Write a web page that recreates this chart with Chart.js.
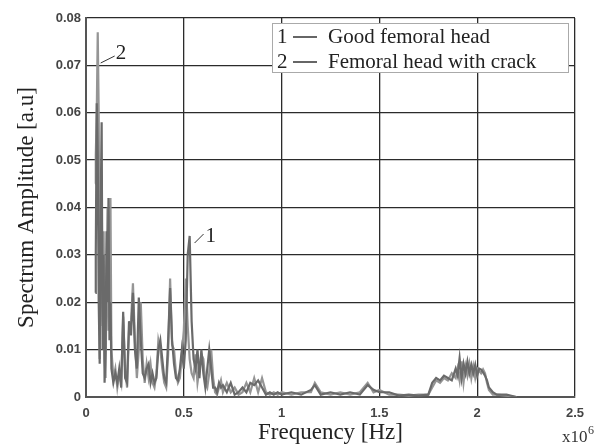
<!DOCTYPE html>
<html>
<head>
<meta charset="utf-8">
<script src="https://cdn.jsdelivr.net/npm/chart.js@4/dist/chart.umd.min.js"></script>
<style>
  body { margin: 0; background: #fff; }
  canvas { display: block; }
</style>
</head>
<body>
<canvas id="chart" width="600" height="445"></canvas>
<script>
// frequency in units of 10^6 Hz
let freqs = [
    0.048, 0.05, 0.055, 0.06, 0.065, 0.07, 0.075, 0.08, 0.085, 0.09,
    0.095, 0.1, 0.105, 0.11, 0.115, 0.12, 0.125, 0.13, 0.14, 0.15,
    0.16, 0.17, 0.18, 0.19, 0.2, 0.21, 0.22, 0.23, 0.24, 0.25,
    0.26, 0.27, 0.28, 0.29, 0.3, 0.31, 0.32, 0.33, 0.34, 0.35,
    0.36, 0.37, 0.38, 0.39, 0.4, 0.41, 0.42, 0.43, 0.44, 0.45,
    0.46, 0.47, 0.48, 0.49, 0.5, 0.51, 0.52, 0.53, 0.54, 0.55,
    0.56, 0.57, 0.58, 0.59, 0.6, 0.61, 0.62, 0.63, 0.64, 0.65,
    0.66, 0.67, 0.68, 0.69, 0.7, 0.72, 0.74, 0.76, 0.78, 0.8,
    0.82, 0.84, 0.86, 0.88, 0.9, 0.92, 0.94, 0.96, 0.98, 1.0,
    1.05, 1.1, 1.15, 1.17, 1.2, 1.25, 1.3, 1.35, 1.4, 1.44,
    1.47, 1.5, 1.55, 1.6, 1.65, 1.7, 1.75, 1.77, 1.79, 1.81,
    1.83, 1.85, 1.87, 1.89, 1.9, 1.91, 1.92, 1.93, 1.94, 1.95,
    1.96, 1.97, 1.98, 1.99, 2.0, 2.01, 2.02, 2.03, 2.04, 2.05,
    2.06, 2.08, 2.1, 2.15, 2.2
];

// 1 - Good femoral head
let goodHead = [
    0.022, 0.030, 0.062, 0.051, 0.020, 0.007, 0.040, 0.058, 0.010, 0.030,
    0.003, 0.010, 0.035, 0.020, 0.042, 0.012, 0.020, 0.006, 0.003, 0.005,
    0.003, 0.006, 0.002, 0.018, 0.004, 0.003, 0.016, 0.013, 0.022, 0.010,
    0.006, 0.021, 0.012, 0.005, 0.004, 0.006, 0.007, 0.003, 0.005, 0.003,
    0.004, 0.010, 0.012, 0.008, 0.004, 0.003, 0.012, 0.023, 0.012, 0.007,
    0.004, 0.0035, 0.006, 0.010, 0.006, 0.012, 0.030, 0.034, 0.016, 0.008,
    0.006, 0.010, 0.004, 0.010, 0.005, 0.002, 0.006, 0.010, 0.006, 0.002,
    0.002, 0.001, 0.003, 0.002, 0.0025, 0.001, 0.003, 0.0005, 0.001, 0.002,
    0.001, 0.003, 0.0025, 0.0035, 0.002, 0.0005, 0.001, 0.0005, 0.001, 0.0005,
    0.001, 0.0005, 0.0015, 0.0025, 0.0005, 0.001, 0.0005, 0.001, 0.0005, 0.0025,
    0.0015, 0.001, 0.001, 0.0003, 0.0005, 0.0003, 0.0005, 0.003, 0.004, 0.0035,
    0.0045, 0.004, 0.0035, 0.006, 0.0045, 0.0082, 0.004, 0.007, 0.005, 0.0075,
    0.005, 0.0068, 0.005, 0.0068, 0.0045, 0.006, 0.0058, 0.0052, 0.0045, 0.0035,
    0.002, 0.001, 0.0005, 0.0005, 0.0
];

// 2 - Femoral head with crack
let crackedHead = [
    0.045, 0.051, 0.060, 0.077, 0.060, 0.008, 0.030, 0.045, 0.015, 0.035,
    0.008, 0.004, 0.025, 0.040, 0.014, 0.030, 0.042, 0.010, 0.004, 0.006,
    0.002, 0.005, 0.003, 0.017, 0.006, 0.002, 0.014, 0.016, 0.024, 0.012,
    0.004, 0.010, 0.020, 0.008, 0.003, 0.007, 0.004, 0.007, 0.003, 0.002,
    0.005, 0.012, 0.010, 0.006, 0.003, 0.002, 0.009, 0.025, 0.011, 0.010,
    0.005, 0.003, 0.004, 0.009, 0.014, 0.025, 0.015, 0.008, 0.005, 0.004,
    0.009, 0.003, 0.006, 0.009, 0.008, 0.003, 0.002, 0.005, 0.010, 0.004,
    0.001, 0.0005, 0.002, 0.0035, 0.001, 0.003, 0.001, 0.002, 0.0005, 0.001,
    0.003, 0.001, 0.004, 0.001, 0.004, 0.001, 0.0005, 0.001, 0.0005, 0.001,
    0.0005, 0.001, 0.001, 0.003, 0.001, 0.0005, 0.001, 0.0005, 0.001, 0.003,
    0.001, 0.0015, 0.0005, 0.0005, 0.0003, 0.0005, 0.0005, 0.002, 0.0035, 0.003,
    0.004, 0.0035, 0.005, 0.004, 0.006, 0.0035, 0.0075, 0.003, 0.0065, 0.0045,
    0.007, 0.004, 0.0065, 0.004, 0.006, 0.0055, 0.005, 0.0058, 0.005, 0.003,
    0.0015, 0.0005, 0.0005, 0.0003, 0.0
];

let seriesNames = ["Good femoral head", "Femoral head with crack"];
let xTicks = [0, 0.5, 1, 1.5, 2, 2.5];
let yTicks = [0, 0.01, 0.02, 0.03, 0.04, 0.05, 0.06, 0.07, 0.08];

const serif = "'Liberation Serif', 'DejaVu Serif', serif";
const sans = "'Liberation Sans', Arial, sans-serif";

function points(values) {
    return freqs.map((f, i) => ({ x: f, y: values[i] }));
}

// legend box, curve labels and the x10^6 multiplier
const extras = {
    id: "extras",
    afterDatasetsDraw(chart) {
        const ctx = chart.ctx;
        const area = chart.chartArea;
        const xs = chart.scales.x;
        const ys = chart.scales.y;
        ctx.save();

        // curve labels with leader lines
        ctx.strokeStyle = "#333";
        ctx.lineWidth = 1;
        ctx.fillStyle = "#222";
        ctx.font = "21px " + serif;
        ctx.textBaseline = "alphabetic";
        let ax = xs.getPixelForValue(0.075), ay = ys.getPixelForValue(0.0705);
        ctx.beginPath();
        ctx.moveTo(ax, ay);
        ctx.lineTo(ax + 14, ay - 7);
        ctx.stroke();
        ctx.fillText("2", ax + 15, ay - 4);

        let bx = xs.getPixelForValue(0.555), by = ys.getPixelForValue(0.0325);
        ctx.beginPath();
        ctx.moveTo(bx, by);
        ctx.lineTo(bx + 9, by - 9);
        ctx.stroke();
        ctx.fillText("1", bx + 11, by - 1);

        // legend
        const right = area.right - 6, top = area.top + 5;
        const left = right - 297, h = 50;
        ctx.fillStyle = "#fff";
        ctx.fillRect(left, top, right - left, h);
        ctx.strokeStyle = "#aaa";
        ctx.strokeRect(left + 0.5, top + 0.5, right - left - 1, h - 1);
        ctx.font = "21px " + serif;
        seriesNames.forEach((name, i) => {
            const base = top + 20 + i * 25;
            ctx.fillStyle = "#222";
            ctx.fillText(String(i + 1), left + 5, base);
            ctx.strokeStyle = "#333";
            ctx.lineWidth = 1.5;
            ctx.beginPath();
            ctx.moveTo(left + 21, base - 6);
            ctx.lineTo(left + 45, base - 6);
            ctx.stroke();
            ctx.fillText(name, left + 56, base);
        });

        // x10^6
        ctx.fillStyle = "#333";
        ctx.font = "17px " + serif;
        ctx.fillText("x10", 562, 442);
        ctx.font = "12px " + serif;
        ctx.fillText("6", 588, 434);
        ctx.restore();
    }
};

new Chart(document.getElementById("chart").getContext("2d"), {
    type: "line",
    data: {
        datasets: [{
            label: seriesNames[0],
            data: points(goodHead),
            borderColor: "#6a6a6a",
            borderWidth: 2.2,
            pointRadius: 0,
            tension: 0
        }, {
            label: seriesNames[1],
            data: points(crackedHead),
            borderColor: "#959595",
            borderWidth: 2.2,
            pointRadius: 0,
            tension: 0
        }]
    },
    options: {
        responsive: false,
        animation: false,
        layout: { padding: { top: 18, right: 25, left: 0, bottom: 0 } },
        plugins: {
            legend: { display: false },
            tooltip: { enabled: false }
        },
        scales: {
            x: {
                type: "linear",
                min: 0,
                max: 2.5,
                afterBuildTicks: (s) => { s.ticks = xTicks.map(v => ({ value: v })); },
                afterFit: (s) => { s.height = 48; },
                ticks: {
                    padding: 9,
                    color: "#444",
                    font: { family: sans, size: 13, weight: "bold" },
                    callback: (v) => String(v)
                },
                grid: { color: "#2b2b2b", lineWidth: 1.3, drawTicks: false },
                border: { color: "#555", width: 2 },
                title: {
                    display: true,
                    text: "Frequency [Hz]",
                    color: "#222",
                    font: { family: serif, size: 23 },
                    padding: { top: 0, bottom: -2 }
                }
            },
            y: {
                min: 0,
                max: 0.08,
                afterBuildTicks: (s) => { s.ticks = yTicks.map(v => ({ value: v })); },
                afterFit: (s) => { s.width = 86; },
                ticks: {
                    padding: 5,
                    color: "#444",
                    font: { family: sans, size: 13, weight: "bold" },
                    callback: (v) => v === 0 ? "0" : v.toFixed(2)
                },
                grid: { color: "#2b2b2b", lineWidth: 1.3, drawTicks: false },
                border: { color: "#555", width: 2 },
                title: {
                    display: true,
                    text: "Spectrum Amplitude [a.u]",
                    color: "#222",
                    font: { family: serif, size: 23 },
                    padding: { top: 13, bottom: 0 }
                }
            }
        }
    },
    plugins: [extras]
});
</script>
</body>
</html>
